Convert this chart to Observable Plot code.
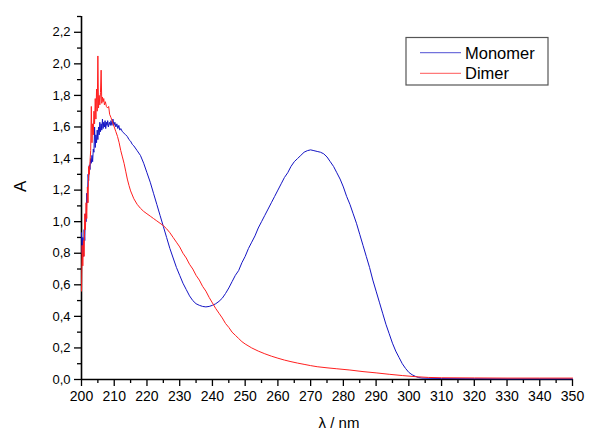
<!DOCTYPE html>
<html>
<head>
<meta charset="utf-8">
<script src="https://cdn.jsdelivr.net/npm/d3@7"></script>
<script src="https://cdn.jsdelivr.net/npm/@observablehq/plot@0.6"></script>
<style>
  html, body { margin: 0; padding: 0; background: #fff; }
  #chart { width: 601px; height: 431px; }
</style>
</head>
<body>
<div id="chart"></div>
<script>
// ---- data ----
const seriesNames = ["Monomer", "Dimer"];
const seriesColors = ["#1414c4", "#ff1f1f"];

const monomerX = [200.0,200.2,200.4,200.6,200.8,201.0,201.2,201.4,201.6,201.8,202.0,202.2,202.4,202.6,202.8,203.0,203.2,203.4,203.6,203.8,204.0,204.2,204.4,204.6,204.8,205.0,205.2,205.4,205.6,205.8,206.0,206.2,206.4,206.6,206.8,207.0,207.2,207.4,207.6,207.8,208.0,208.2,208.5,208.8,209.0,209.3,209.6,209.9,210.2,210.5,210.8,211.1,211.4,211.7,212.0,212.5,213,213.5,214,214.5,215,215.5,216,217,218,219,220,221,222,223,224,225,226,227,228,229,230,231,232,233,234,235,236,237,238,239,240,241,242,243,244,245,246,247,248,249,250,251,252,253,254,255,256,257,258,259,260,261,262,263,264,265,266,267,268,269,270,271,272,273,274,275,276,277,278,279,280,281,282,283,284,285,286,287,288,289,290,291,292,293,294,295,296,297,298,299,300,301,302,303,304,310,320,330,340,350];
const monomerY = [0.93,0.80,0.90,0.78,0.95,0.88,1.05,1.00,1.18,1.12,1.30,1.26,1.36,1.33,1.40,1.37,1.42,1.38,1.46,1.44,1.60,1.47,1.55,1.50,1.58,1.52,1.60,1.55,1.63,1.57,1.62,1.58,1.65,1.59,1.63,1.60,1.64,1.59,1.63,1.61,1.64,1.60,1.63,1.61,1.64,1.61,1.65,1.61,1.63,1.60,1.62,1.59,1.61,1.58,1.59,1.57,1.56,1.55,1.54,1.52,1.51,1.49,1.48,1.45,1.42,1.37,1.31,1.25,1.18,1.11,1.04,0.97,0.90,0.83,0.77,0.71,0.66,0.61,0.57,0.53,0.50,0.48,0.47,0.463,0.46,0.463,0.47,0.48,0.495,0.515,0.545,0.58,0.62,0.66,0.69,0.74,0.78,0.83,0.87,0.91,0.96,1.00,1.04,1.08,1.12,1.16,1.20,1.24,1.28,1.31,1.35,1.38,1.40,1.42,1.44,1.45,1.455,1.45,1.445,1.44,1.43,1.41,1.38,1.35,1.31,1.27,1.22,1.16,1.11,1.05,0.99,0.92,0.85,0.78,0.71,0.63,0.56,0.49,0.42,0.35,0.29,0.23,0.18,0.14,0.10,0.07,0.045,0.03,0.02,0.012,0.009,0.006,0.005,0.004,0.004,0.004];

const dimerX = [200.0,200.2,200.4,200.6,200.8,201.0,201.2,201.4,201.6,201.8,202.0,202.2,202.4,202.6,202.8,203.0,203.2,203.4,203.6,203.8,204.0,204.2,204.4,204.6,204.8,205.0,205.2,205.4,205.6,205.8,206.0,206.2,206.4,206.6,206.8,207.0,207.3,207.6,208.0,208.3,208.6,209.0,209.5,210,210.5,211,211.5,212,212.5,213,213.5,214,214.5,215,216,217,218,219,220,221,222,223,224,225,226,227,228,229,230,231,232,233,234,235,236,237,238,239,240,241,242,243,244,245,246,247,248,249,250,252,254,256,258,260,262,264,266,268,270,272,275,278,282,286,290,294,298,302,306,310,320,330,340,350];
const dimerY = [0.56,0.85,0.72,0.88,0.78,1.05,0.95,1.12,1.02,1.22,1.12,1.35,1.30,1.38,1.45,1.73,1.50,1.62,1.55,1.70,1.62,1.78,1.65,1.84,1.70,2.05,1.72,1.80,1.74,1.82,1.96,1.75,1.79,1.76,1.78,1.74,1.76,1.73,1.72,1.73,1.68,1.66,1.63,1.60,1.57,1.54,1.50,1.45,1.41,1.37,1.32,1.27,1.23,1.195,1.145,1.11,1.085,1.065,1.05,1.035,1.02,1.005,0.99,0.975,0.955,0.93,0.90,0.87,0.84,0.80,0.77,0.73,0.70,0.66,0.63,0.59,0.56,0.52,0.485,0.45,0.42,0.39,0.355,0.33,0.30,0.28,0.26,0.24,0.225,0.20,0.18,0.163,0.148,0.135,0.123,0.113,0.104,0.096,0.088,0.081,0.074,0.068,0.06,0.05,0.042,0.033,0.025,0.018,0.013,0.011,0.01,0.009,0.009,0.009];

const xMajorTicks = [200,210,220,230,240,250,260,270,280,290,300,310,320,330,340,350];
const xMinorTicks = [205,215,225,235,245,255,265,275,285,295,305,315,325,335,345];
const yMajorTicks = [0,0.2,0.4,0.6,0.8,1.0,1.2,1.4,1.6,1.8,2.0,2.2];
const yMinorTicks = [0.1,0.3,0.5,0.7,0.9,1.1,1.3,1.5,1.7,1.9,2.1,2.3];
const xLabel = "λ / nm";
const yLabel = "A";

// ---- build table ----
const rows = [
  ...monomerX.map((x, i) => ({series: seriesNames[0], x, y: monomerY[i]})),
  ...dimerX.map((x, i) => ({series: seriesNames[1], x, y: dimerY[i]}))
];

const fmt = d => d.toFixed(1).replace(".", ",");

const chart = Plot.plot({
  width: 601,
  height: 431,
  marginLeft: 81,
  marginRight: 29,
  marginTop: 16,
  marginBottom: 52,
  style: {fontFamily: "'Liberation Sans', Arial, sans-serif", background: "#fff", color: "#000"},
  x: {domain: [200, 350]},
  y: {domain: [0, 2.3]},
  color: {domain: seriesNames, range: seriesColors},
  marks: [
    Plot.axisX({ticks: xMajorTicks, tickSize: 7, tickPadding: 5, fontSize: 14, label: null, strokeWidth: 1.3}),
    Plot.axisX({ticks: xMinorTicks, tickSize: 4, text: null, label: null, strokeWidth: 1.3}),
    Plot.axisY({ticks: yMajorTicks, tickSize: 7, tickPadding: 4, fontSize: 13, tickFormat: fmt, label: null, strokeWidth: 1.3}),
    Plot.axisY({ticks: yMinorTicks, tickSize: 4, text: null, label: null, strokeWidth: 1.3}),
    Plot.ruleX([200], {stroke: "#000", strokeWidth: 1.6}),
    Plot.ruleY([0], {stroke: "#000", strokeWidth: 1.6}),
    Plot.line(rows.filter(d => d.series === seriesNames[0]), {x: "x", y: "y", stroke: "series", strokeWidth: 1}),
    Plot.line(rows.filter(d => d.series === seriesNames[1]), {x: "x", y: "y", stroke: "series", strokeWidth: 1}),
    Plot.text([xLabel], {frameAnchor: "bottom", dy: 48, dx: 12, fontSize: 15, lineAnchor: "bottom"}),
    Plot.text([yLabel], {frameAnchor: "left", dx: -61, rotate: -90, fontSize: 17, dy: -6})
  ]
});

document.getElementById("chart").appendChild(chart);

// ---- legend ----
const svg = d3.select(chart);
const lg = svg.append("g").attr("font-family", "'Liberation Sans', Arial, sans-serif").attr("text-anchor", "start");
lg.append("rect").attr("x", 406).attr("y", 37.5).attr("width", 142).attr("height", 47.5)
  .attr("fill", "#fff").attr("stroke", "#555").attr("stroke-width", 1.2);
seriesNames.forEach((name, i) => {
  const cy = 52.7 + i * 20.6;
  lg.append("line").attr("x1", 420).attr("x2", 461).attr("y1", cy).attr("y2", cy)
    .attr("stroke", seriesColors[i]).attr("stroke-opacity", 0.6).attr("stroke-width", 1.2);
  lg.append("text").attr("x", 465).attr("y", cy).attr("dy", "0.36em")
    .attr("text-anchor", "start").attr("font-size", 16.5).attr("fill", "#000").text(name);
});
</script>
</body>
</html>
